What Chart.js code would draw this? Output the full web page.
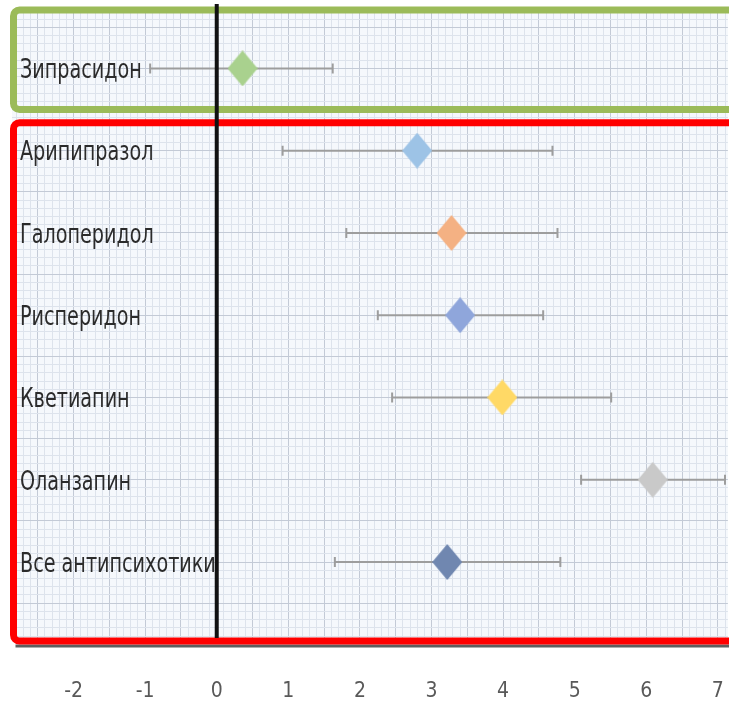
<!DOCTYPE html>
<html>
<head>
<meta charset="utf-8">
<script src="https://cdn.jsdelivr.net/npm/chart.js@4/dist/chart.umd.min.js"></script>
<style>
  html, body { margin: 0; padding: 0; background: #ffffff; }
  #wrap { width: 729px; height: 706px; }
  canvas { display: block; }
</style>
</head>
<body>
<div id="wrap"><canvas id="forest" width="729" height="706"></canvas></div>
<script>
// Drugs, point estimates and confidence limits
const categories = ['Зипрасидон', 'Арипипразол', 'Галоперидол', 'Рисперидон', 'Кветиапин', 'Оланзапин', 'Все антипсихотики'];
const estimates  = [0.36, 2.80, 3.28, 3.40, 3.99, 6.09, 3.22];
const lowerCI    = [-0.93, 0.92, 1.81, 2.25, 2.45, 5.09, 1.65];
const upperCI    = [1.62, 4.69, 4.76, 4.56, 5.51, 7.10, 4.80];
const markerColors = ['#a9d18e', '#9dc3e6', '#f4b183', '#8fa6db', '#ffd966', '#c9c9c9', '#7087b0'];
const xTickLabels = [-2, -1, 0, 1, 2, 3, 4, 5, 6, 7];

const FONT = '"DejaVu Sans Condensed", "DejaVu Sans", sans-serif';
const LABEL_STRETCH = 0.82;   // horizontal squeeze of the row labels
const AXIS_GAP = 36;          // empty band between plot and axis numbers

// Highlight frames around groups of rows (first/last row index, extra room in row units)
const frames = [
  { first: 0, last: 0, above: 0.71, below: 0.50, color: '#9bbb59' },
  { first: 1, last: 6, above: 0.34, below: 0.96, color: '#ff0000' }
];

// Diamond marker drawn into its own small canvas
function diamond(color, w, h) {
  const c = document.createElement('canvas');
  c.width = w; c.height = h;
  const g = c.getContext('2d');
  g.fillStyle = color;
  g.beginPath();
  g.moveTo(w / 2, 0);
  g.lineTo(w, h / 2);
  g.lineTo(w / 2, h);
  g.lineTo(0, h / 2);
  g.closePath();
  g.fill();
  return c;
}

const points = estimates.map((v, i) => ({ x: v, y: i }));
const markers = markerColors.map(c => diamond(c, 30, 36));

function gridTicks(min, max, step) {
  const out = [];
  for (let k = Math.ceil(min / step - 1e-9); k * step <= max + 1e-9; k++) {
    out.push({ value: Math.round(k * step * 1000) / 1000 });
  }
  return out;
}
function isMajor(v, every) {
  const r = v / every;
  return Math.abs(r - Math.round(r)) < 1e-6;
}

const paperPlugin = {
  id: 'paper',
  beforeDraw(chart) {
    const { ctx, chartArea: a } = chart;
    ctx.save();
    ctx.fillStyle = '#f5f8fc';
    ctx.fillRect(a.left, a.top, a.right - a.left, a.bottom - a.top);
    ctx.restore();
  }
};

const errorBarPlugin = {
  id: 'errorBars',
  beforeDatasetsDraw(chart) {
    const { ctx, scales: { x, y } } = chart;
    ctx.save();
    ctx.strokeStyle = '#9d9d9d';
    ctx.lineWidth = 2;
    categories.forEach((_, i) => {
      const py = y.getPixelForValue(i);
      const x1 = x.getPixelForValue(lowerCI[i]);
      const x2 = x.getPixelForValue(upperCI[i]);
      ctx.beginPath();
      ctx.moveTo(x1, py); ctx.lineTo(x2, py);
      ctx.moveTo(x1, py - 5); ctx.lineTo(x1, py + 5);
      ctx.moveTo(x2, py - 5); ctx.lineTo(x2, py + 5);
      ctx.stroke();
    });
    ctx.restore();
  }
};

const overlayPlugin = {
  id: 'overlay',
  afterDraw(chart) {
    const { ctx, chartArea: a, scales: { x, y } } = chart;
    ctx.save();

    // group frames
    frames.forEach((f, idx) => {
      const top = y.getPixelForValue(f.first - f.above);
      const bottom = y.getPixelForValue(f.last + f.below);
      const left = a.left + 1.5;
      const right = a.right + 10;
      if (idx === frames.length - 1) {
        ctx.strokeStyle = 'rgba(40,40,40,0.75)';
        ctx.lineWidth = 3;
        ctx.beginPath();
        ctx.moveTo(left + 2, bottom + 5);
        ctx.lineTo(right, bottom + 5);
        ctx.stroke();
      }
      ctx.strokeStyle = f.color;
      ctx.lineWidth = 7;
      ctx.beginPath();
      ctx.roundRect(left, top, right - left, bottom - top, 6);
      ctx.stroke();
    });

    // reference line at zero
    const x0 = x.getPixelForValue(0);
    ctx.strokeStyle = '#111111';
    ctx.lineWidth = 4;
    ctx.beginPath();
    ctx.moveTo(x0, a.top - 6);
    ctx.lineTo(x0, a.bottom - 3);
    ctx.stroke();

    // row labels
    ctx.fillStyle = '#2b2b2b';
    ctx.font = '26px ' + FONT;
    ctx.textAlign = 'left';
    ctx.textBaseline = 'middle';
    categories.forEach((name, i) => {
      ctx.save();
      ctx.translate(a.left + 8, y.getPixelForValue(i) + 3);
      ctx.scale(LABEL_STRETCH, 1);
      ctx.fillText(name, 0, 0);
      ctx.restore();
    });
    ctx.restore();
  }
};

new Chart(document.getElementById('forest'), {
  type: 'scatter',
  data: {
    datasets: [{
      data: points,
      pointStyle: markers,
      pointRadius: 15,
      pointHoverRadius: 15,
      backgroundColor: markerColors,
      borderWidth: 0
    }]
  },
  options: {
    responsive: false,
    animation: false,
    events: [],
    layout: { autoPadding: false, padding: { top: 10, left: 12, right: 0, bottom: 0 } },
    plugins: {
      legend: { display: false },
      tooltip: { enabled: false }
    },
    scales: {
      x: {
        type: 'linear',
        min: -2.86,
        max: 7.14,
        afterBuildTicks(scale) { scale.ticks = gridTicks(scale.min, scale.max, 0.1); },
        border: { display: false },
        grid: {
          drawTicks: true,
          tickLength: AXIS_GAP,
          tickColor: 'rgba(0,0,0,0)',
          lineWidth: 1,
          color: c => isMajor(c.tick.value, 0.5) ? '#c3cad6' : '#dde3ec'
        },
        ticks: {
          autoSkip: false,
          maxRotation: 0,
          padding: 4,
          color: '#595959',
          font: { family: FONT, size: 21, lineHeight: 1 },
          callback: v => (xTickLabels.includes(v) ? String(v) : '')
        }
      },
      y: {
        type: 'linear',
        reverse: true,
        min: -0.71,
        max: 6.96,
        afterBuildTicks(scale) { scale.ticks = gridTicks(scale.min, scale.max, 0.1); },
        border: { display: false },
        grid: {
          drawTicks: false,
          lineWidth: 1,
          color: c => isMajor(c.tick.value, 0.5) ? '#c3cad6' : '#dde3ec'
        },
        ticks: { display: false }
      }
    }
  },
  plugins: [paperPlugin, errorBarPlugin, overlayPlugin]
});
</script>
</body>
</html>
